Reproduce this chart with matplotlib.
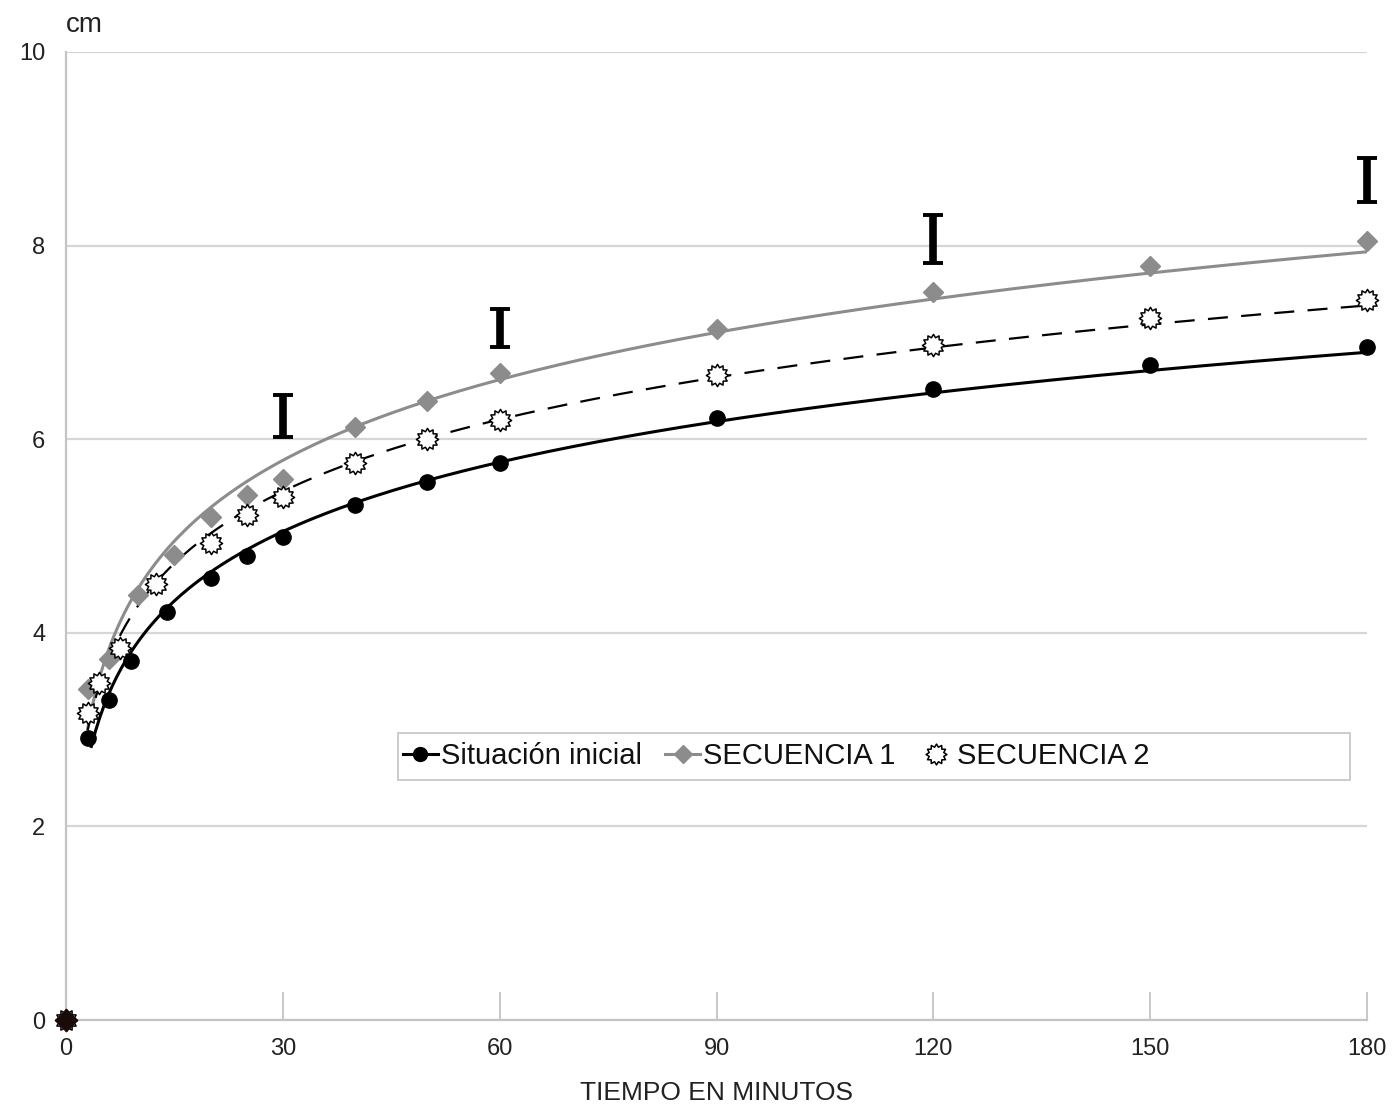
import matplotlib.pyplot as plt
import numpy as np
from matplotlib.lines import Line2D
from matplotlib.patches import Rectangle
from matplotlib.path import Path

plt.rcParams['font.family'] = ['Liberation Sans', 'DejaVu Sans']

# minutos y cm
t_ini = [0, 3, 6, 9, 14, 20, 25, 30, 40, 50, 60, 90, 120, 150, 180]
y_ini = [0, 2.91, 3.31, 3.71, 4.22, 4.57, 4.79, 4.99, 5.32, 5.56, 5.75, 6.22, 6.52, 6.77, 6.95]

t_s1 = [0, 3, 6, 10, 15, 20, 25, 30, 40, 50, 60, 90, 120, 150, 180]
y_s1 = [0, 3.42, 3.73, 4.39, 4.80, 5.20, 5.42, 5.59, 6.13, 6.39, 6.68, 7.14, 7.52, 7.79, 8.05]

t_s2 = [0, 3, 4.5, 7.5, 12.5, 20, 25, 30, 40, 50, 60, 90, 120, 150, 180]
y_s2 = [0, 3.17, 3.48, 3.84, 4.50, 4.93, 5.22, 5.40, 5.75, 6.00, 6.20, 6.66, 6.97, 7.25, 7.44]

# barras de error sueltas
err_t = [30, 60, 120, 180]
err_y = [6.24, 7.15, 8.07, 8.68]
err_h = [0.22, 0.20, 0.25, 0.23]

labels = ["Situación inicial", "SECUENCIA 1", "SECUENCIA 2"]
gris = "#8c8c8c"
sol = Path.unit_regular_star(12, 0.72)  # marcador tipo "sol"


def tendencia(t, y, desde):
    # linea de tendencia logaritmica (como en Excel)
    t = np.array(t[1:], dtype=float)
    y = np.array(y[1:], dtype=float)
    b, a = np.polyfit(np.log(t), y, 1)
    tt = np.linspace(desde, t[-1], 300)
    return tt, a + b * np.log(tt)


fig = plt.figure(figsize=(13.95, 11.11), dpi=100)
ax = fig.add_axes([0.0473, 0.0819, 0.9327, 0.8713])

ax.set_xlim(0, 180)
ax.set_ylim(0, 10)
ax.set_xticks(range(0, 181, 30))
ax.set_yticks(range(0, 11, 2))
ax.yaxis.grid(True, color="#d6d6d6", linewidth=1.6)
ax.set_axisbelow(True)
for s in ["top", "right"]:
    ax.spines[s].set_visible(False)
for s in ["left", "bottom"]:
    ax.spines[s].set_color("#c4c4c4")
    ax.spines[s].set_linewidth(1.6)
ax.tick_params(axis="x", direction="in", length=20, width=1.3, color="#c4c4c4",
               pad=13, labelsize=17, labelcolor="#222222")
ax.tick_params(axis="y", length=0, pad=15, labelsize=17, labelcolor="#222222")

tt, yy = tendencia(t_s1, y_s1, 3)
ax.plot(tt, yy, color=gris, lw=2.2, zorder=2)
tt, yy = tendencia(t_s2, y_s2, 3)
ax.plot(tt, yy, color="black", lw=1.6, ls=(0, (9, 6)), zorder=2)
tt, yy = tendencia(t_ini, y_ini, 3.5)
ax.plot(tt, yy, color="black", lw=2.2, zorder=2)

ax.plot(t_s1, y_s1, ls="none", marker="D", ms=10, color=gris, zorder=3, clip_on=False)
ax.plot(t_s2, y_s2, ls="none", marker=sol, ms=16, mfc="white", mec="black",
        mew=1.1, zorder=4, clip_on=False)
ax.plot(t_ini, y_ini, ls="none", marker="o", ms=11, color="black", zorder=5,
        clip_on=False)
# punto de origen
ax.plot([t_ini[0]], [y_ini[0]], ls="none", marker="D", ms=11, color="#1a0a0a",
        zorder=6, clip_on=False)

ax.errorbar(err_t, err_y, yerr=err_h, fmt="none", ecolor="black", elinewidth=5.5,
            capsize=7, capthick=2.8, zorder=6, clip_on=False)

ax.set_xlabel("TIEMPO EN MINUTOS", fontsize=19, color="#222222", labelpad=15)
fig.text(66 / 1395, 1 - 25 / 1111, "cm", fontsize=20, color="#222222", va="center")

# leyenda
fig.patches.append(Rectangle((398 / 1395, 1 - 780 / 1111), 952 / 1395, 47 / 1111,
                             transform=fig.transFigure, facecolor="white",
                             edgecolor="#c8c8c8", lw=1.3, zorder=7))
handles = [
    Line2D([], [], color="black", lw=2.2, marker="o", ms=10),
    Line2D([], [], color=gris, lw=2.2, marker="D", ms=9),
    Line2D([], [], ls="none", marker=sol, ms=15, mfc="white", mec="black", mew=1.1),
]
leg = fig.legend(handles, labels, loc="center left", ncol=3, frameon=False,
                 bbox_to_anchor=(403 / 1395, 1 - 756 / 1111), fontsize=21,
                 handlelength=1.2, handletextpad=0.1, columnspacing=0.8,
                 borderaxespad=0, borderpad=0)
for txt in leg.get_texts():
    txt.set_color("#111111")
leg.set_zorder(8)

fig.savefig("out.png", dpi=100)
plt.close()
